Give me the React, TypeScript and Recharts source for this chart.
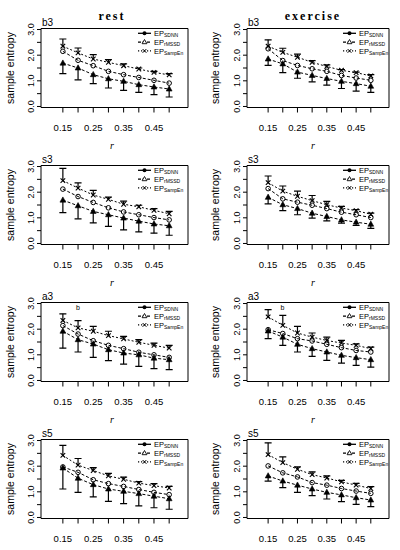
import React from 'react';
import {
  ComposedChart,
  Line,
  Scatter,
  XAxis,
  YAxis,
  ErrorBar,
  ReferenceArea,
  Customized,
} from 'recharts';

// ---------- axes / labels ----------
const rValues = [0.15, 0.2, 0.25, 0.3, 0.35, 0.4, 0.45, 0.5];
const xTickLabels = ['0.15', '', '0.25', '', '0.35', '', '0.45', ''];
const yTicks = [0, 0.5, 1, 1.5, 2, 2.5, 3];
const yTickLabels = ['0.0', '', '1.0', '', '2.0', '', '3.0'];
const columnTitles = ['rest', 'exercise'];
const panelNames = ['b3', 's3', 'a3', 's5'];
const seriesNames = ['SDNN', 'rMSSD', 'SampEn'];
const yTitle = 'sample entropy';
const xTitle = 'r';

// ---------- b3 ----------
const b3RestSDNN = [2.15, 1.8, 1.59, 1.37, 1.24, 1.13, 1.02, 0.91];
const b3RestRMSSD = [1.69, 1.5, 1.24, 1.08, 0.98, 0.85, 0.76, 0.68];
const b3RestRMSSDsd = [0.41, 0.46, 0.35, 0.36, 0.35, 0.3, 0.3, 0.31];
const b3RestSampEn = [2.35, 2.09, 1.85, 1.72, 1.59, 1.46, 1.33, 1.23];
const b3RestSampEnSd = [0.28, 0.19, 0.17, 0.11, 0.07, 0.04, 0.04, 0.05];

const b3ExSDNN = [2.25, 1.79, 1.6, 1.47, 1.37, 1.21, 1.11, 1.02];
const b3ExRMSSD = [1.85, 1.66, 1.34, 1.21, 1.09, 0.98, 0.89, 0.79];
const b3ExRMSSDsd = [0.25, 0.34, 0.24, 0.25, 0.26, 0.28, 0.29, 0.24];
const b3ExSampEn = [2.35, 2.11, 1.92, 1.72, 1.56, 1.41, 1.32, 1.19];
const b3ExSampEnSd = [0.25, 0.16, 0.12, 0.07, 0.06, 0.03, 0.02, 0.05];

// ---------- s3 ----------
const s3RestSDNN = [2.12, 1.83, 1.6, 1.39, 1.23, 1.12, 1.01, 0.92];
const s3RestRMSSD = [1.69, 1.47, 1.25, 1.12, 0.99, 0.87, 0.76, 0.69];
const s3RestRMSSDsd = [0.49, 0.51, 0.45, 0.45, 0.46, 0.42, 0.36, 0.37];
const s3RestSampEn = [2.45, 2.16, 1.89, 1.72, 1.53, 1.43, 1.29, 1.16];
const s3RestSampEnSd = [0.48, 0.2, 0.18, 0.09, 0.12, 0.06, 0.07, 0.09];

const s3ExSDNN = [2.14, 1.74, 1.61, 1.49, 1.36, 1.22, 1.12, 1.01];
const s3ExRMSSD = [1.8, 1.51, 1.36, 1.18, 1.05, 0.92, 0.83, 0.75];
const s3ExRMSSDsd = [0.26, 0.23, 0.24, 0.19, 0.17, 0.13, 0.13, 0.16];
const s3ExSampEn = [2.37, 2.04, 1.84, 1.67, 1.51, 1.38, 1.28, 1.14];
const s3ExSampEnSd = [0.26, 0.2, 0.2, 0.2, 0.13, 0.07, 0.04, 0.04];

// ---------- a3 ----------
const a3RestSDNN = [2.14, 1.81, 1.55, 1.37, 1.24, 1.1, 1.0, 0.9];
const a3RestRMSSD = [1.92, 1.59, 1.42, 1.2, 1.07, 1.0, 0.87, 0.81];
const a3RestRMSSDsd = [0.66, 0.48, 0.52, 0.43, 0.43, 0.45, 0.41, 0.39];
const a3RestSampEn = [2.34, 2.05, 1.92, 1.75, 1.62, 1.49, 1.37, 1.26];
const a3RestSampEnSd = [0.26, 0.28, 0.19, 0.17, 0.1, 0.1, 0.09, 0.11];

const a3ExSDNN = [1.98, 1.83, 1.63, 1.54, 1.41, 1.28, 1.17, 1.11];
const a3ExRMSSD = [1.93, 1.69, 1.41, 1.24, 1.11, 0.98, 0.89, 0.81];
const a3ExRMSSDsd = [0.3, 0.32, 0.3, 0.3, 0.33, 0.3, 0.3, 0.29];
const a3ExSampEn = [2.48, 2.15, 1.85, 1.69, 1.56, 1.46, 1.37, 1.24];
const a3ExSampEnSd = [0.28, 0.39, 0.26, 0.16, 0.13, 0.1, 0.06, 0.06];

// ---------- s5 ----------
const s5RestSDNN = [1.97, 1.76, 1.47, 1.32, 1.21, 1.09, 0.98, 0.89];
const s5RestRMSSD = [1.93, 1.53, 1.28, 1.11, 1.02, 0.93, 0.83, 0.73];
const s5RestRMSSDsd = [0.82, 0.55, 0.48, 0.48, 0.48, 0.48, 0.45, 0.41];
const s5RestSampEn = [2.42, 2.04, 1.83, 1.62, 1.49, 1.34, 1.24, 1.15];
const s5RestSampEnSd = [0.39, 0.26, 0.11, 0.1, 0.08, 0.06, 0.08, 0.06];

const s5ExSDNN = [2.01, 1.74, 1.58, 1.36, 1.26, 1.13, 1.03, 0.94];
const s5ExRMSSD = [1.62, 1.42, 1.26, 1.11, 0.98, 0.88, 0.77, 0.68];
const s5ExRMSSDsd = [0.2, 0.26, 0.28, 0.26, 0.26, 0.26, 0.26, 0.26];
const s5ExSampEn = [2.45, 2.14, 1.88, 1.67, 1.54, 1.39, 1.26, 1.13];
const s5ExSampEnSd = [0.46, 0.22, 0.09, 0.11, 0.08, 0.06, 0.07, 0.07];

const panels = [
  { row: 0, col: 0, sdnn: b3RestSDNN, rmssd: b3RestRMSSD, rmssdSd: b3RestRMSSDsd, sampen: b3RestSampEn, sampenSd: b3RestSampEnSd, note: '' },
  { row: 0, col: 1, sdnn: b3ExSDNN, rmssd: b3ExRMSSD, rmssdSd: b3ExRMSSDsd, sampen: b3ExSampEn, sampenSd: b3ExSampEnSd, note: '' },
  { row: 1, col: 0, sdnn: s3RestSDNN, rmssd: s3RestRMSSD, rmssdSd: s3RestRMSSDsd, sampen: s3RestSampEn, sampenSd: s3RestSampEnSd, note: '' },
  { row: 1, col: 1, sdnn: s3ExSDNN, rmssd: s3ExRMSSD, rmssdSd: s3ExRMSSDsd, sampen: s3ExSampEn, sampenSd: s3ExSampEnSd, note: '' },
  { row: 2, col: 0, sdnn: a3RestSDNN, rmssd: a3RestRMSSD, rmssdSd: a3RestRMSSDsd, sampen: a3RestSampEn, sampenSd: a3RestSampEnSd, note: 'b' },
  { row: 2, col: 1, sdnn: a3ExSDNN, rmssd: a3ExRMSSD, rmssdSd: a3ExRMSSDsd, sampen: a3ExSampEn, sampenSd: a3ExSampEnSd, note: 'b' },
  { row: 3, col: 0, sdnn: s5RestSDNN, rmssd: s5RestRMSSD, rmssdSd: s5RestRMSSDsd, sampen: s5RestSampEn, sampenSd: s5RestSampEnSd, note: '' },
  { row: 3, col: 1, sdnn: s5ExSDNN, rmssd: s5ExRMSSD, rmssdSd: s5ExRMSSDsd, sampen: s5ExSampEn, sampenSd: s5ExSampEnSd, note: '' },
];

// ---------- layout ----------
const COL_X = [0, 200];
const FRAME_L = [41, 247];
const FRAME_R = [188, 389];
const ROW_STEP = 137;
const FRAME_TOP = 28.5;
const FRAME_H = 79;
const CHART_W = 200;
const CHART_H = 152;
const X_AXIS_H = 30;
const X_DOMAIN: [number, number] = [0.078, 0.562];
const Y_DOMAIN: [number, number] = [-0.04, 3.04];
const Y_TITLE_X = [13.5, 18.5];
const X_TITLE_X = [112, 113];
const TITLE_X = [112, 113];
const LEGEND_OFF = [50, 46];
const NOTE_X = [78, 82.5];
const LAST_ROW = 3;

const SANS = 'Liberation Sans, Arial, sans-serif';
const SERIF = 'Liberation Serif, Times New Roman, serif';

const openCircle = (props: any) => {
  const { cx, cy, index } = props;
  if (cx == null || cy == null) return <g key={`oc${index}`} />;
  return <circle key={`oc${index}`} cx={cx} cy={cy} r={2.3} fill="none" stroke="#000" strokeWidth={1} />;
};

const filledTriangle = (props: any) => {
  const { cx, cy, index } = props;
  if (cx == null || cy == null) return <g key={`ft${index}`} />;
  return (
    <path
      key={`ft${index}`}
      d={`M${cx},${cy - 3.2}L${cx + 2.9},${cy + 2}L${cx - 2.9},${cy + 2}Z`}
      fill="#000"
      stroke="#000"
      strokeWidth={0.6}
    />
  );
};

const crossMark = (props: any) => {
  const { cx, cy, index } = props;
  if (cx == null || cy == null) return <g key={`cx${index}`} />;
  const s = 2.3;
  return (
    <g key={`cx${index}`}>
      <line x1={cx - s} y1={cy - s} x2={cx + s} y2={cy + s} stroke="#000" strokeWidth={1.1} />
      <line x1={cx - s} y1={cy + s} x2={cx + s} y2={cy - s} stroke="#000" strokeWidth={1.1} />
    </g>
  );
};

const capShape = (props: any) => {
  const { cx, cy } = props;
  if (cx == null || cy == null) return <g />;
  return <line x1={cx - 3.5} x2={cx + 3.5} y1={cy} y2={cy} stroke="#000" strokeWidth={1.2} />;
};

const YTick = (props: any) => {
  const { x, y, payload } = props;
  const idx = yTicks.indexOf(payload.value);
  const label = idx >= 0 ? yTickLabels[idx] : '';
  if (!label) return <g />;
  return (
    <text
      x={x}
      y={y}
      transform={`rotate(-90 ${x} ${y})`}
      textAnchor="middle"
      fontSize={9}
      fontFamily={SANS}
      fill="#000"
    >
      {label}
    </text>
  );
};

function LegendMarker({ kind, x, y }: { kind: number; x: number; y: number }) {
  if (kind === 0) return <circle cx={x} cy={y} r={2} fill="#000" />;
  if (kind === 1)
    return <path d={`M${x},${y - 2.6}L${x + 2.4},${y + 1.6}L${x - 2.4},${y + 1.6}Z`} fill="#fff" stroke="#000" strokeWidth={0.9} />;
  return (
    <g>
      <line x1={x - 1.9} y1={y - 1.9} x2={x + 1.9} y2={y + 1.9} stroke="#000" strokeWidth={1} />
      <line x1={x - 1.9} y1={y + 1.9} x2={x + 1.9} y2={y - 1.9} stroke="#000" strokeWidth={1} />
    </g>
  );
}

const legendDash = [undefined, '3 1.5', '1.2 1.8'];

function Decor({ p }: { p: any }) {
  const col = p.col;
  const colX = COL_X[col];
  const L = FRAME_L[col] - colX;
  const R = FRAME_R[col] - colX;
  const T = FRAME_TOP;
  const B = FRAME_TOP + FRAME_H;
  const lx = R - LEGEND_OFF[col];
  return (
    <g>
      {p.row === 0 && (
        <text
          x={TITLE_X[col]}
          y={20}
          textAnchor="middle"
          fontSize={12}
          fontWeight="bold"
          letterSpacing={2}
          fontFamily={SERIF}
          fill="#000"
        >
          {columnTitles[col]}
        </text>
      )}
      <text x={L + 1} y={T - 3} fontSize={10} fontFamily={SANS} fill="#000">
        {panelNames[p.row]}
      </text>
      <text
        x={Y_TITLE_X[col]}
        y={T + FRAME_H / 2}
        transform={`rotate(-90 ${Y_TITLE_X[col]} ${T + FRAME_H / 2})`}
        textAnchor="middle"
        fontSize={10.5}
        fontFamily={SANS}
        fill="#000"
      >
        {yTitle}
      </text>
      {p.row !== LAST_ROW && (
        <text
          x={X_TITLE_X[col]}
          y={B + 41}
          textAnchor="middle"
          fontSize={10}
          fontStyle="italic"
          fontFamily={SERIF}
          fill="#000"
        >
          {xTitle}
        </text>
      )}
      {p.note && (
        <text x={NOTE_X[col]} y={T + 7} textAnchor="middle" fontSize={7} fontFamily={SANS} fill="#000">
          {p.note}
        </text>
      )}
      {seriesNames.map((name, k) => {
        const yy = T + 4.8 + k * 8.8;
        return (
          <g key={name}>
            <line
              x1={lx}
              x2={lx + 13}
              y1={yy}
              y2={yy}
              stroke="#000"
              strokeWidth={1.3}
              strokeDasharray={legendDash[k]}
            />
            <LegendMarker kind={k} x={lx + 6.5} y={yy} />
            <text x={lx + 16} y={yy + 2.6} fontSize={7.5} fontFamily={SANS} fill="#000">
              EP
              <tspan fontSize={5} dy={1.2}>
                {name}
              </tspan>
            </text>
          </g>
        );
      })}
    </g>
  );
}

function Panel({ p }: { p: any }) {
  const col = p.col;
  const colX = COL_X[col];
  const L = FRAME_L[col] - colX;
  const R = FRAME_R[col] - colX;
  const data = rValues.map((r, i) => ({
    r,
    sdnn: p.sdnn[i],
    rmssd: p.rmssd[i],
    rmssdErr: [p.rmssdSd[i], 0],
    rmssdCap: p.rmssd[i] - p.rmssdSd[i],
    sampen: p.sampen[i],
    sampenErr: [0, p.sampenSd[i]],
    sampenCap: p.sampen[i] + p.sampenSd[i],
  }));
  return (
    <div style={{ position: 'absolute', left: colX, top: p.row * ROW_STEP, width: CHART_W, height: CHART_H }}>
      <ComposedChart
        width={CHART_W}
        height={CHART_H}
        data={data}
        margin={{ top: FRAME_TOP, right: CHART_W - R, bottom: CHART_H - FRAME_TOP - FRAME_H - X_AXIS_H, left: 0 }}
      >
        <XAxis
          type="number"
          dataKey="r"
          domain={X_DOMAIN}
          allowDataOverflow
          ticks={rValues}
          interval={0}
          tickFormatter={(v: number, i: number) => xTickLabels[i] ?? ''}
          axisLine={false}
          tickLine={{ stroke: '#000', strokeWidth: 1 }}
          tickSize={5}
          tickMargin={12}
          height={X_AXIS_H}
          tick={{ fill: '#000', fontSize: 9.5, fontFamily: SANS }}
        />
        <YAxis
          type="number"
          domain={Y_DOMAIN}
          allowDataOverflow
          ticks={yTicks}
          interval={0}
          width={L}
          axisLine={false}
          tickLine={{ stroke: '#000', strokeWidth: 1 }}
          tickSize={4}
          tickMargin={3}
          tick={<YTick />}
        />
        <ReferenceArea
          x1={X_DOMAIN[0]}
          x2={X_DOMAIN[1]}
          y1={Y_DOMAIN[0]}
          y2={Y_DOMAIN[1]}
          fill="none"
          fillOpacity={0}
          stroke="#000"
          strokeWidth={1}
          ifOverflow="visible"
        />
        <Line
          dataKey="sdnn"
          name="SDNN"
          stroke="#000"
          strokeWidth={1}
          strokeDasharray="3 2"
          dot={openCircle}
          activeDot={false}
          isAnimationActive={false}
        />
        <Line
          dataKey="rmssd"
          name="rMSSD"
          stroke="#000"
          strokeWidth={1}
          strokeDasharray="3 2"
          dot={filledTriangle}
          activeDot={false}
          isAnimationActive={false}
        >
          <ErrorBar dataKey="rmssdErr" width={0} stroke="#000" strokeWidth={1.2} direction="y" isAnimationActive={false} />
        </Line>
        <Line
          dataKey="sampen"
          name="SampEn"
          stroke="#000"
          strokeWidth={1}
          strokeDasharray="2 2"
          dot={crossMark}
          activeDot={false}
          isAnimationActive={false}
        >
          <ErrorBar dataKey="sampenErr" width={0} stroke="#000" strokeWidth={1.2} direction="y" isAnimationActive={false} />
        </Line>
        <Scatter dataKey="rmssdCap" shape={capShape} isAnimationActive={false} legendType="none" />
        <Scatter dataKey="sampenCap" shape={capShape} isAnimationActive={false} legendType="none" />
        <Customized component={<Decor p={p} />} />
      </ComposedChart>
    </div>
  );
}

export default function App() {
  return (
    <div
      style={{
        position: 'absolute',
        left: 0,
        top: 0,
        width: 400,
        height: 550,
        background: '#fff',
        overflow: 'hidden',
      }}
    >
      {panels.map((p) => (
        <Panel key={`${p.row}-${p.col}`} p={p} />
      ))}
    </div>
  );
}
